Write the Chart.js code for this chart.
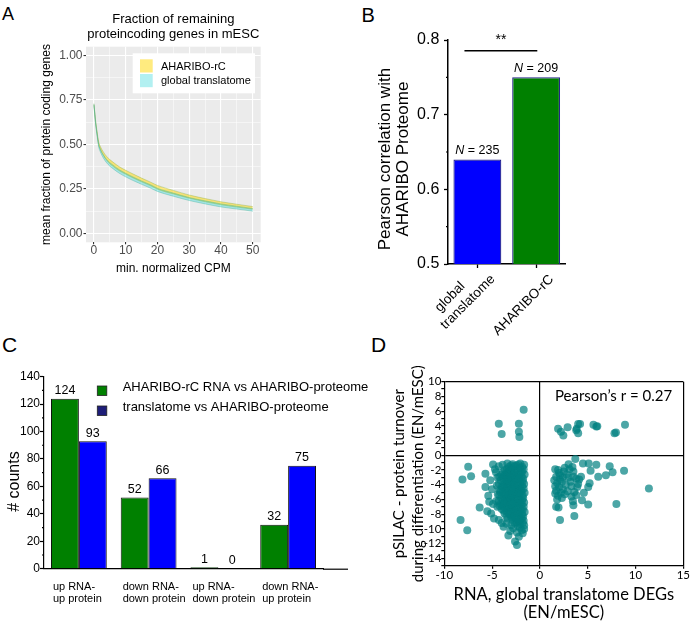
<!DOCTYPE html>
<html>
<head>
<meta charset="utf-8">
<script src="https://cdn.jsdelivr.net/npm/chart.js@4.4.1/dist/chart.umd.min.js"></script>
<style>
  body { margin: 0; background: #fff; width: 690px; height: 622px; position: relative; overflow: hidden; }
  canvas { position: absolute; }
  .tag { position: absolute; font-family: 'Liberation Sans', Arial, sans-serif; line-height: 1; color: #000; }
</style>
</head>
<body>
<div class="tag" style="left:2px;top:4.7px;font-size:18px">A</div>
<div class="tag" style="left:361.5px;top:5.4px;font-size:20px">B</div>
<div class="tag" style="left:2px;top:334.3px;font-size:21px">C</div>
<div class="tag" style="left:371px;top:334.3px;font-size:21px">D</div>

<canvas id="chartA" width="345" height="300" style="left:0;top:0"></canvas>
<canvas id="chartC" width="380" height="322" style="left:0;top:300px"></canvas>
<canvas id="chartD" width="310" height="322" style="left:380px;top:300px"></canvas>
<canvas id="chartB" width="340" height="360" style="left:350px;top:0"></canvas>

<script>
// ---------- A: fraction of remaining protein-coding genes ----------
const cpm = [0, 0.5, 1, 1.5, 2, 3, 4, 5, 6, 8, 10, 12, 15, 18, 20, 25, 30, 35, 40, 45, 50];
const ahariboLow  = [0.722, 0.627, 0.557, 0.499, 0.472, 0.437, 0.411, 0.392, 0.378, 0.352, 0.333, 0.315, 0.290, 0.267, 0.249, 0.222, 0.198, 0.178, 0.161, 0.148, 0.136];
const ahariboHigh = [0.730, 0.639, 0.571, 0.515, 0.490, 0.457, 0.433, 0.415, 0.401, 0.375, 0.355, 0.337, 0.311, 0.287, 0.270, 0.242, 0.216, 0.196, 0.178, 0.164, 0.151];
const globalLow   = [0.720, 0.618, 0.546, 0.486, 0.459, 0.423, 0.397, 0.378, 0.364, 0.338, 0.318, 0.300, 0.276, 0.253, 0.236, 0.209, 0.185, 0.166, 0.149, 0.137, 0.125];
const globalHigh  = [0.728, 0.630, 0.560, 0.501, 0.476, 0.441, 0.416, 0.398, 0.384, 0.358, 0.338, 0.320, 0.295, 0.272, 0.254, 0.227, 0.202, 0.183, 0.166, 0.153, 0.140];
const yMajorA = [0, 0.25, 0.5, 0.75, 1.0];
const yMinorA = [0.125, 0.375, 0.625, 0.875];
const xMajorA = [0, 10, 20, 30, 40, 50];
const xMinorA = [5, 15, 25, 35, 45];

// ---------- B: Pearson correlation with proteome ----------
const pearsonGroups = [['global       ', 'translatome'], ['', 'AHARIBO-rC']];
const pearsonValues = [0.64, 0.75];
const pearsonN = [235, 209];
const pearsonTicks = [0.5, 0.6, 0.7, 0.8];
const pearsonMinor = [0.55, 0.65, 0.75];

// ---------- C: counts per regulation class ----------
const classes = [['up RNA-', 'up protein'], ['down RNA-', 'down protein'], ['up RNA-', 'down protein'], ['down RNA-', 'up protein']];
const ahariboCounts = [124, 52, 1, 32];
const translatomeCounts = [93, 66, 0, 75];
const countTicks = [0, 20, 40, 60, 80, 100, 120, 140];
const countMinor = [10, 30, 50, 70, 90, 110, 130];

// ---------- D: protein turnover vs RNA change ----------
const upperLeft = [[-4.3, 4.3], [-4.0, 2.9], [-2.2, 4.3], [-2.2, 3.2], [-2.15, 2.5], [-1.7, 6.2]];
const upperRight = [[1.9, 3.6], [2.2, 3.2], [2.45, 2.7], [2.9, 3.8], [3.85, 3.6], [4.0, 4.25], [4.2, 4.25], [4.0, 3.0],
  [5.6, 4.15], [5.9, 3.9], [6.0, 3.95], [7.8, 3.0], [7.95, 3.1], [8.9, 4.15], [3.8, 3.4]];
const lowerRight = [[3.7, -0.5], [3.0, -1.2], [3.4, -1.6], [4.5, -1.1], [5.1, -1.1], [5.3, -2.1], [5.9, -1.3], [6.1, -2.9],
  [6.9, -2.7], [7.3, -1.5], [7.6, -2.3], [8.8, -2.1], [11.4, -4.5], [8.0, -6.6], [5.05, -6.7], [4.4, -6.1], [3.5, -6.8],
  [3.45, -6.25], [3.6, -8.25], [2.1, -8.8], [1.7, -7.0], [1.95, -7.1], [3.6, -5.0], [3.8, -5.4], [4.6, -5.1], [5.2, -3.8],
  [5.05, -4.3], [1.6, -1.9], [1.9, -2.0], [2.0, -2.4], [1.7, -2.9], [2.1, -3.3], [1.8, -3.8], [2.0, -4.3], [1.7, -4.8],
  [2.2, -5.1], [1.9, -5.5], [2.5, -2.2], [2.8, -2.6], [3.1, -1.9], [3.0, -3.0], [3.2, -3.6], [2.7, -4.0], [2.4, -4.6],
  [2.6, -5.3], [2.3, -5.8], [3.5, -2.9], [3.8, -3.2], [4.0, -3.9], [4.3, -2.9], [3.9, -4.3], [3.3, -4.2], [2.9, -4.9],
  [1.5, -3.4], [2.3, -3.6], [2.6, -1.7], [1.8, -6.0], [2.1, -2.7], [1.6, -4.2], [2.4, -3.0], [3.5, -2.2], [4.1, -3.3],
  [3.3, -5.6], [1.6, -5.2]];
const lowerLeft = [
  [-1.65, -1.3], [-1.7, -1.9], [-1.6, -2.6], [-1.75, -3.2], [-1.65, -3.9], [-1.7, -4.5], [-1.6, -5.1], [-1.75, -5.8],
  [-1.65, -6.4], [-1.7, -7.0], [-1.6, -7.7], [-1.75, -8.3], [-1.7, -8.9], [-1.65, -9.5],
  [-1.85, -1.6], [-1.85, -2.25], [-1.9, -2.9], [-1.8, -3.55], [-1.85, -4.2], [-1.9, -4.85], [-1.8, -5.45], [-1.85, -6.1],
  [-1.9, -6.7], [-1.8, -7.35], [-1.85, -8.0], [-1.9, -8.6], [-1.8, -9.2],
  [-2.05, -1.1], [-2.1, -1.7], [-2.0, -2.3], [-2.15, -3.0], [-2.05, -3.6], [-2.1, -4.2], [-2.0, -4.9], [-2.15, -5.5],
  [-2.05, -6.1], [-2.1, -6.7], [-2.0, -7.4], [-2.15, -8.0], [-2.05, -8.7], [-2.1, -9.3],
  [-2.25, -1.25], [-2.3, -1.9], [-2.2, -2.55], [-2.25, -3.2], [-2.3, -3.85], [-2.2, -4.5], [-2.25, -5.15], [-2.3, -5.8],
  [-2.2, -6.4], [-2.25, -7.05], [-2.3, -7.7], [-2.2, -8.35], [-2.25, -8.95], [-2.3, -9.6],
  [-2.45, -1.4], [-2.5, -2.0], [-2.4, -2.7], [-2.55, -3.3], [-2.45, -4.0], [-2.5, -4.6], [-2.4, -5.2], [-2.55, -5.9],
  [-2.45, -6.5], [-2.5, -7.2], [-2.4, -7.8], [-2.55, -8.5], [-2.45, -9.1],
  [-2.65, -1.5], [-2.7, -2.15], [-2.6, -2.8], [-2.65, -3.45], [-2.7, -4.1], [-2.6, -4.75], [-2.65, -5.35], [-2.7, -6.0],
  [-2.6, -6.6], [-2.65, -7.25], [-2.7, -7.9], [-2.6, -8.55], [-2.65, -9.15],
  [-2.85, -1.2], [-2.9, -1.8], [-2.8, -2.5], [-2.95, -3.1], [-2.85, -3.7], [-2.9, -4.4], [-2.8, -5.0], [-2.95, -5.6],
  [-2.85, -6.3], [-2.9, -6.9], [-2.8, -7.5], [-2.95, -8.2], [-2.85, -8.8],
  [-3.05, -1.4], [-3.1, -2.05], [-3.0, -2.7], [-3.05, -3.35], [-3.1, -4.0], [-3.0, -4.65], [-3.05, -5.25], [-3.1, -5.9],
  [-3.0, -6.55], [-3.05, -7.15], [-3.1, -7.8], [-3.0, -8.45],
  [-3.25, -1.6], [-3.3, -2.2], [-3.2, -2.9], [-3.35, -3.5], [-3.25, -4.1], [-3.3, -4.8], [-3.2, -5.4], [-3.35, -6.0],
  [-3.25, -6.7], [-3.3, -7.3], [-3.2, -8.0], [-3.35, -8.6],
  [-3.45, -1.85], [-3.5, -2.5], [-3.4, -3.15], [-3.45, -3.8], [-3.5, -4.45], [-3.4, -5.1], [-3.45, -5.7], [-3.5, -6.35],
  [-3.4, -7.0], [-3.45, -7.65], [-3.5, -8.3],
  [-3.65, -2.0], [-3.7, -2.7], [-3.6, -3.3], [-3.75, -4.0], [-3.65, -4.6], [-3.7, -5.3], [-3.6, -5.9], [-3.75, -6.5],
  [-3.65, -7.2], [-3.7, -7.9],
  [-3.85, -2.3], [-3.9, -3.0], [-3.8, -3.65], [-3.85, -4.3], [-3.9, -4.95], [-3.8, -5.6], [-3.85, -6.2], [-3.9, -6.85],
  [-3.8, -7.5],
  [-4.05, -2.6], [-4.1, -3.4], [-4.0, -4.3], [-4.15, -5.0], [-4.05, -5.8], [-4.1, -6.6], [-4.0, -7.3],
  [-4.25, -2.9], [-4.3, -3.9], [-4.2, -4.7], [-4.25, -5.4], [-4.3, -6.2], [-4.2, -6.9],
  [-4.45, -3.0], [-4.5, -4.1], [-4.4, -5.3], [-4.55, -6.2], [-4.45, -7.0],
  [-4.9, -1.25], [-4.7, -1.9], [-4.3, -1.5], [-3.9, -1.3], [-3.4, -1.1], [-5.7, -2.5], [-5.2, -3.4], [-5.7, -4.3],
  [-5.4, -5.5], [-5.0, -4.6], [-4.9, -6.6], [-5.1, -7.9], [-6.3, -7.1], [-5.5, -7.6], [-4.8, -8.6], [-4.3, -8.8],
  [-4.0, -9.2], [-3.8, -9.7], [-3.3, -10.9], [-3.1, -10.3], [-2.6, -11.7], [-2.4, -12.2], [-2.2, -11.05], [-1.9, -10.2],
  [-1.65, -10.0], [-2.8, -9.9], [-2.4, -10.5], [-3.5, -9.3], [-2.1, -9.8], [-7.5, -1.55], [-8.1, -3.3], [-7.2, -2.85],
  [-8.3, -8.8], [-7.6, -10.2], [-4.6, -2.3], [-5.3, -6.3], [-3.0, -9.5], [-1.8, -10.6]];
const xTicksD = [-10, -5, 0, 5, 10, 15];
const yTicksD = [-15, -14, -13, -12, -11, -10, -9, -8, -7, -6, -5, -4, -3, -2, -1, 0, 1, 2, 3, 4, 5, 6, 7, 8, 9, 10];
const pearsonR = 0.27;

Chart.defaults.animation = false;
Chart.defaults.font.family = "'Liberation Sans', Arial, sans-serif";
Chart.defaults.color = '#000';
Chart.defaults.plugins.legend.display = false;
Chart.defaults.plugins.tooltip.enabled = false;

const toTicks = list => s => { s.ticks = list.map(v => ({ value: v })); };

// short unlabeled ticks on the y axis
const minorTicks = (axis, values, len) => ({
  id: 'minor_' + axis,
  afterDraw(chart) {
    const s = chart.scales[axis], ctx = chart.ctx;
    ctx.save();
    ctx.strokeStyle = '#000';
    ctx.lineWidth = 1.2;
    values.forEach(v => {
      const y = s.getPixelForValue(v);
      ctx.beginPath();
      ctx.moveTo(s.right - len, y);
      ctx.lineTo(s.right, y);
      ctx.stroke();
    });
    ctx.restore();
  }
});

// ===== Panel A =====
const yellowFill = 'rgba(255,215,0,0.5)';
const cyanFill = 'rgba(0,206,209,0.3)';
const ribbon = (label, low, high, color, edge) => [
  { label, data: cpm.map((x, i) => ({ x, y: high[i] })), fill: '+1', backgroundColor: color,
    borderColor: edge, borderWidth: 0.8, pointRadius: 0, cubicInterpolationMode: 'monotone' },
  { label: label + ' (low)', data: cpm.map((x, i) => ({ x, y: low[i] })), fill: false,
    borderColor: edge, borderWidth: 0.8, pointRadius: 0, cubicInterpolationMode: 'monotone' }
];

new Chart(document.getElementById('chartA'), {
  type: 'line',
  data: {
    datasets: [
      ...ribbon('global translatome', globalLow, globalHigh, cyanFill, 'rgba(60,170,140,0.45)'),
      ...ribbon('AHARIBO-rC', ahariboLow, ahariboHigh, yellowFill, 'rgba(130,170,60,0.45)')
    ]
  },
  options: {
    responsive: false,
    layout: { padding: { left: 0, top: 0, right: 84.3, bottom: 21.7 } },
    plugins: {
      title: {
        display: true, fullSize: false,
        text: ['Fraction of remaining', 'proteincoding genes in mESC'],
        font: { size: 13, weight: 'normal' }, color: '#000',
        padding: { top: 11.5, bottom: 4 }
      }
    },
    scales: {
      x: {
        type: 'linear', min: -2.5, max: 52.5,
        afterBuildTicks: toTicks([...xMajorA, ...xMinorA].sort((a, b) => a - b)),
        ticks: { autoSkip: false, minRotation: 0, maxRotation: 0, color: '#4d4d4d',
          font: { size: 12, lineHeight: 1 }, padding: 0,
          callback: v => xMajorA.includes(v) ? String(v) : '' },
        grid: {
          color: '#fff',
          lineWidth: c => (c.tick && xMajorA.includes(c.tick.value)) ? 1.1 : 0.5,
          tickColor: c => (c.tick && xMajorA.includes(c.tick.value)) ? '#333' : 'rgba(0,0,0,0)',
          tickLength: 2
        },
        border: { display: false },
        title: { display: true, text: 'min. normalized CPM', font: { size: 12 }, color: '#000',
          padding: { top: 0, bottom: 2.8 } },
        afterFit: s => { s.height = 36; }
      },
      y: {
        min: -0.05, max: 1.05,
        afterBuildTicks: toTicks([...yMajorA, ...yMinorA].sort((a, b) => a - b)),
        ticks: { autoSkip: false, color: '#4d4d4d', font: { size: 12 }, padding: 1,
          callback: v => yMajorA.includes(v) ? v.toFixed(2) : '' },
        grid: {
          color: '#fff',
          lineWidth: c => (c.tick && yMajorA.includes(c.tick.value)) ? 1.1 : 0.5,
          tickColor: c => (c.tick && yMajorA.includes(c.tick.value)) ? '#333' : 'rgba(0,0,0,0)',
          tickLength: 2.5
        },
        border: { display: false },
        title: { display: true, text: 'mean fraction of protein coding genes', font: { size: 12 }, color: '#000',
          padding: { top: 39.5, bottom: 0 } },
        afterFit: s => { s.width = 86; }
      }
    }
  },
  plugins: [{
    id: 'panelBackground',
    beforeDraw(chart) {
      const { ctx, chartArea: a } = chart;
      ctx.save();
      ctx.fillStyle = '#ebebeb';
      ctx.fillRect(a.left, a.top, a.width, a.height);
      ctx.restore();
    }
  }, {
    id: 'ribbonLegend',
    afterDatasetsDraw(chart) {
      const { ctx, chartArea: a } = chart;
      const x0 = a.left + 46.7, y0 = a.top + 6.6;
      const items = [['AHARIBO-rC', yellowFill], ['global translatome', cyanFill]];
      ctx.save();
      ctx.fillStyle = '#fff';
      ctx.fillRect(x0, y0, 122.3, 40);
      ctx.font = "11px 'Liberation Sans', Arial, sans-serif";
      ctx.textBaseline = 'middle';
      items.forEach(([label, color], i) => {
        ctx.fillStyle = color;
        ctx.fillRect(x0 + 7.3, y0 + 6 + i * 14.7, 12.7, 13.2);
        ctx.fillStyle = '#000';
        ctx.fillText(label, x0 + 28.3, y0 + 13.4 + i * 14);
      });
      ctx.restore();
    }
  }]
});

// ===== Panel B =====
new Chart(document.getElementById('chartB'), {
  type: 'bar',
  data: {
    labels: pearsonGroups,
    datasets: [{
      data: pearsonValues,
      backgroundColor: ['#0000ff', '#008000'],
      borderColor: '#24248a', borderWidth: 1.2,
      categoryPercentage: 1, barPercentage: 0.815
    }]
  },
  options: {
    responsive: false,
    layout: { padding: { left: 0, top: 40, right: 124.5, bottom: 16 } },
    scales: {
      x: {
        grid: { offset: false, drawOnChartArea: false, tickLength: 4, tickColor: '#000', tickWidth: 1.3 },
        border: { color: '#000', width: 1.5 },
        ticks: { color: '#000', font: { size: 13.5 }, minRotation: 45, maxRotation: 45, padding: -8, labelOffset: 4 },
        afterFit: s => { s.height = 80; }
      },
      y: {
        min: 0.5, max: 0.8,
        afterBuildTicks: toTicks(pearsonTicks),
        ticks: { color: '#000', font: { size: 16 }, padding: 4.7, callback: v => v.toFixed(1) },
        grid: { drawOnChartArea: false, tickLength: 4, tickColor: '#000', tickWidth: 1.3 },
        border: { color: '#000', width: 1.5 },
        title: { display: true, text: ['Pearson correlation with   ', 'AHARIBO Proteome   '],
          font: { size: 17, lineHeight: 1.08 }, color: '#000', padding: { top: 25.8, bottom: 0 } },
        afterFit: s => { s.width = 98; }
      }
    }
  },
  plugins: [minorTicks('y', pearsonMinor, 2), {
    id: 'pearsonNotes',
    afterDatasetsDraw(chart) {
      const ctx = chart.ctx, meta = chart.getDatasetMeta(0);
      const x = chart.scales.x, y = chart.scales.y;
      const italic = "italic 12.5px 'Liberation Sans', Arial, sans-serif";
      const plain = "12.5px 'Liberation Sans', Arial, sans-serif";
      ctx.save();
      ctx.fillStyle = '#000';
      ctx.textBaseline = 'middle';
      meta.data.forEach((bar, i) => {
        const rest = ' = ' + pearsonN[i];
        ctx.font = italic;
        const wN = ctx.measureText('N').width;
        ctx.font = plain;
        const wR = ctx.measureText(rest).width;
        const left = bar.x - (wN + wR) / 2, ty = bar.y - 8.6;
        ctx.font = italic;
        ctx.fillText('N', left, ty);
        ctx.font = plain;
        ctx.fillText(rest, left + wN, ty);
      });
      // significance bar between the two groups
      const ly = y.getPixelForValue(0.7856);
      const x1 = x.getPixelForValue(-0.22), x2 = x.getPixelForValue(1.02);
      ctx.strokeStyle = '#000';
      ctx.lineWidth = 1.3;
      ctx.beginPath();
      ctx.moveTo(x1, ly);
      ctx.lineTo(x2, ly);
      ctx.stroke();
      ctx.font = "14px 'Liberation Sans', Arial, sans-serif";
      ctx.textAlign = 'center';
      ctx.fillText('**', (x1 + x2) / 2, ly - 11);
      ctx.restore();
    }
  }]
});

// ===== Panel C =====
const seriesC = [
  { label: 'AHARIBO-rC RNA vs AHARIBO-proteome', data: ahariboCounts, color: '#008000', key: '#008000' },
  { label: 'translatome vs AHARIBO-proteome', data: translatomeCounts, color: '#0000ff', key: '#1e1e78' }
];

new Chart(document.getElementById('chartC'), {
  type: 'bar',
  data: {
    labels: classes,
    datasets: seriesC.map(s => ({
      label: s.label, data: s.data, backgroundColor: s.color,
      borderColor: '#111', borderWidth: 1,
      categoryPercentage: 0.8, barPercentage: 1
    }))
  },
  options: {
    responsive: false,
    layout: { padding: { left: 0, top: 76.7, right: 57, bottom: 13.3 } },
    scales: {
      x: {
        grid: { display: false, drawTicks: false },
        border: { color: '#000', width: 1.2 },
        ticks: { color: '#000', font: { size: 11, lineHeight: 1.12 }, padding: 11.85,
          align: 'start', labelOffset: -26, maxRotation: 0 },
        afterFit: s => { s.height = 40; }
      },
      y: {
        min: 0, max: 140,
        afterBuildTicks: toTicks(countTicks),
        ticks: { color: '#000', font: { size: 12 }, padding: 0 },
        grid: { drawOnChartArea: false, tickLength: 4, tickColor: '#000', tickWidth: 1.2 },
        border: { color: '#000', width: 1.2 },
        title: { display: true, text: '# counts    ', font: { size: 16 }, color: '#000',
          padding: { top: 4.9, bottom: 0 } },
        afterFit: s => { s.width = 44; }
      }
    }
  },
  plugins: [minorTicks('y', countMinor, 2), {
    id: 'countLabels',
    afterDatasetsDraw(chart) {
      const ctx = chart.ctx, a = chart.chartArea;
      ctx.save();
      ctx.fillStyle = '#000';
      ctx.textAlign = 'center';
      ctx.textBaseline = 'middle';
      ctx.font = "12.5px 'Liberation Sans', Arial, sans-serif";
      chart.data.datasets.forEach((ds, di) => {
        chart.getDatasetMeta(di).data.forEach((bar, i) => {
          ctx.fillText(String(ds.data[i]), bar.x, bar.y - 8);
        });
      });
      // axis line continues past the last group
      ctx.strokeStyle = '#000';
      ctx.lineWidth = 1.2;
      ctx.beginPath();
      ctx.moveTo(a.right, a.bottom + 0.5);
      ctx.lineTo(a.right + 25, a.bottom + 0.5);
      ctx.stroke();
      // legend
      ctx.textAlign = 'left';
      ctx.font = "13px 'Liberation Sans', Arial, sans-serif";
      seriesC.forEach((s, i) => {
        const ky = a.top + 9.3 + i * 20;
        ctx.fillStyle = s.key;
        ctx.fillRect(a.left + 53.3, ky, 9.5, 9.5);
        ctx.strokeStyle = '#222';
        ctx.lineWidth = 0.8;
        ctx.strokeRect(a.left + 53.3, ky, 9.5, 9.5);
        ctx.fillStyle = '#000';
        ctx.fillText(s.label, a.left + 78.7, a.top + 10.6 + i * 20);
      });
      ctx.restore();
    }
  }]
});

// ===== Panel D =====
const lato = "Lato, 'Open Sans', sans-serif";
const edgeOrZero = (v, max) => v === 0 || v === max;

new Chart(document.getElementById('chartD'), {
  type: 'scatter',
  data: {
    datasets: [{
      data: [...upperLeft, ...upperRight, ...lowerLeft, ...lowerRight].map(([x, y]) => ({ x, y })),
      backgroundColor: 'rgba(0,128,128,0.7)', borderWidth: 0, pointRadius: 4
    }]
  },
  options: {
    responsive: false,
    layout: { padding: { left: 0, top: 81.7, right: 6.5, bottom: 0.3 } },
    scales: {
      x: {
        type: 'linear', min: -10, max: 15,
        afterBuildTicks: toTicks(xTicksD),
        ticks: { color: '#000', font: { family: lato, size: 11.5 }, padding: 0 },
        grid: {
          color: c => (c.tick && edgeOrZero(c.tick.value, 15)) ? '#000' : 'rgba(0,0,0,0)',
          lineWidth: 1.2, tickColor: '#000', tickLength: 3
        },
        border: { color: '#000', width: 1.2 },
        title: { display: true, text: ['RNA, global translatome DEGs', '(EN/mESC)'],
          font: { family: lato, size: 16.5, lineHeight: 1.05 }, color: '#000', padding: { top: 0, bottom: 0.75 } },
        afterFit: s => { s.height = 56; }
      },
      y: {
        min: -15, max: 10,
        afterBuildTicks: toTicks(yTicksD),
        ticks: { autoSkip: false, color: '#000', font: { family: lato, size: 11.5 }, padding: 0,
          callback: v => (v % 2 === 0) ? String(v) : '' },
        grid: {
          color: c => (c.tick && edgeOrZero(c.tick.value, 10)) ? '#000' : 'rgba(0,0,0,0)',
          lineWidth: 1.2, tickColor: '#000', tickLength: 3
        },
        border: { color: '#000', width: 1.2 },
        title: { display: true, text: ['pSILAC - protein turnover', 'during differentiation (EN/mESC)'],
          font: { family: lato, size: 15, lineHeight: 1.25 }, color: '#000', padding: { top: 10, bottom: 0 } },
        afterFit: s => { s.width = 64.3; }
      }
    }
  },
  plugins: [{
    id: 'pearsonLabel',
    afterDatasetsDraw(chart) {
      const ctx = chart.ctx;
      ctx.save();
      ctx.fillStyle = '#000';
      ctx.textAlign = 'center';
      ctx.textBaseline = 'middle';
      ctx.font = '15px ' + lato;
      ctx.fillText('Pearson\u2019s r = ' + pearsonR.toFixed(2),
        chart.scales.x.getPixelForValue(7.7), chart.scales.y.getPixelForValue(8.1));
      ctx.restore();
    }
  }]
});
</script>
</body>
</html>
